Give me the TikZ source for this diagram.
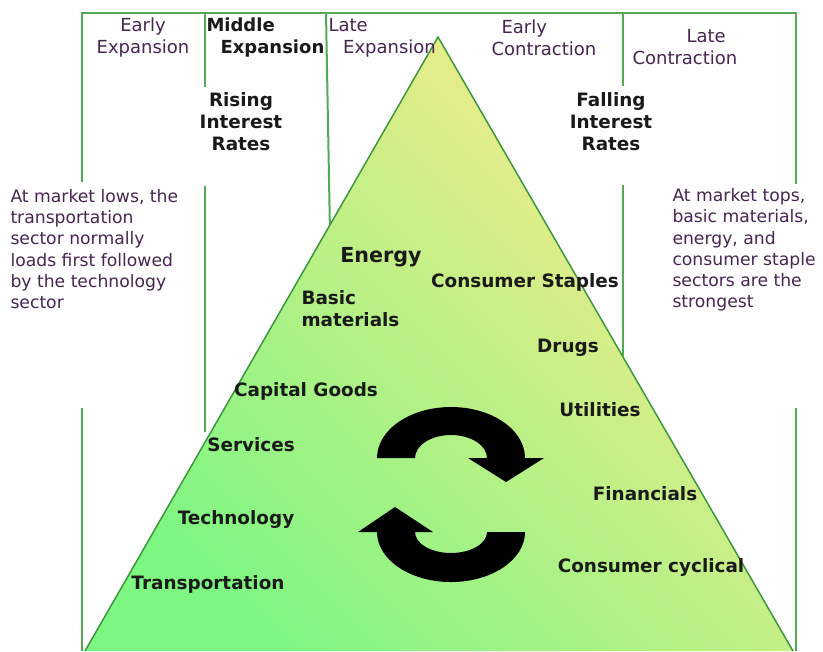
\documentclass[tikz,border=0pt]{standalone}
\usepackage{fontspec}
\setmainfont{DejaVu Sans}

\definecolor{framegreen}{RGB}{84,170,84}
\definecolor{edgegreen}{RGB}{58,150,58}
\definecolor{tritop}{RGB}{252,234,140}
\definecolor{tribottom}{RGB}{126,246,130}
\definecolor{notetext}{RGB}{72,36,82}
\definecolor{sectortext}{RGB}{26,26,26}

\tikzset{every picture/.style={line width=0.75pt}}
\tikzset{
  frameline/.style={color=framegreen, line width=1.5},
  phase/.style={inner sep=0pt, text=notetext, font=\fontsize{13.5}{16.5}\selectfont},
  note/.style={inner sep=0pt, text=notetext, align=left, font=\fontsize{12.9}{15.9}\selectfont},
  sector/.style={inner sep=0pt, text=sectortext, font=\fontsize{13.8}{16.5}\selectfont\bfseries},
  cyclearrow/.style={fill=black, draw=none}
}

\begin{document}
\begin{tikzpicture}[x=0.75pt,y=0.75pt,yscale=-1,xscale=1]
\useasboundingbox (0,0) rectangle (823,651);

%Straight Lines: outer frame
\draw [frameline] (82,182) -- (82,13) -- (796,13) -- (796,184) ;
\draw [frameline] (82,408) -- (82,651) ;
\draw [frameline] (796,408) -- (796,651) ;
%Straight Lines: phase dividers
\draw [frameline] (205,13) -- (205,87) ;
\draw [frameline] (205,186) -- (205,432) ;
\draw [frameline] (326,13) -- (330,234) ;
\draw [frameline] (623,13) -- (623,86) ;
\draw [frameline] (623,185) -- (623,356) ;

%Shape: Triangle
\shade [top color=tritop, bottom color=tribottom, shading angle=-45] (438,37) -- (793,651) -- (85,651) -- cycle ;
\draw [color=edgegreen, line width=1.1] (85,651) -- (438,37) -- (793,651) ;

%Shape: upper cycle arrow
\fill [cyclearrow] (377,458) arc [start angle=180, end angle=360, x radius=74, y radius=51] -- (544,458) -- (506,482) -- (468,458) -- (487,458) arc [start angle=0, end angle=-180, x radius=36, y radius=23] -- cycle ;
%Shape: lower cycle arrow
\fill [cyclearrow] (525,532) arc [start angle=0, end angle=180, x radius=74, y radius=50] -- (358,532) -- (395,507) -- (433,532) -- (415,532) arc [start angle=180, end angle=0, x radius=36, y radius=21] -- cycle ;

% Text Node
\draw (143,38) node [phase, align=center] (earlyexp) {Early\\Expansion};
% Text Node
\draw (206,38) node [phase, anchor=west, align=left, text=sectortext, font=\fontsize{13.5}{16.5}\selectfont\bfseries] (midexp) {Middle\\\hspace*{10.5pt}Expansion};
% Text Node
\draw (328,38) node [phase, anchor=west, align=left] (lateexp) {Late\\\hspace*{11pt}Expansion};
% Text Node
\draw (491,38) node [phase, anchor=west, align=left] (earlycon) {\hspace*{7.5pt}Early\\Contraction};
% Text Node
\draw (632,47) node [phase, anchor=west, align=left] (latecon) {\hspace*{40.5pt}Late\\Contraction};
% Text Node
\draw (241,122) node [sector, align=center] (rising) {Rising\\Interest\\Rates};
% Text Node
\draw (611,122) node [sector, align=center] (falling) {Falling\\Interest\\Rates};
% Text Node
\draw (10,249) node [note, anchor=west] (lowsnote) {At market lows, the\\transportation\\sector normally\\loads first followed\\by the technology\\sector};
% Text Node
\draw (672,250) node [note, anchor=west] (topsnote) {At market tops,\\basic materials,\\energy, and\\consumer staple\\sectors are the\\strongest};

% Text Node
\draw (381,257) node [sector, font=\fontsize{15.5}{18}\selectfont\bfseries] (energy) {Energy};
% Text Node
\draw (525,282) node [sector] (staples) {Consumer Staples};
% Text Node
\draw (301,309) node [sector, anchor=west, align=left] (basicmat) {Basic\\materials};
% Text Node
\draw (568,348) node [sector] (drugs) {Drugs};
% Text Node
\draw (306,391) node [sector] (capgoods) {Capital Goods};
% Text Node
\draw (600,410) node [sector] (utilities) {Utilities};
% Text Node
\draw (251,445) node [sector] (services) {Services};
% Text Node
\draw (645,494) node [sector] (financials) {Financials};
% Text Node
\draw (236,519) node [sector] (technology) {Technology};
% Text Node
\draw (651,567) node [sector] (consumercyc) {Consumer cyclical};
% Text Node
\draw (208,584) node [sector] (transport) {Transportation};

\end{tikzpicture}
\end{document}
